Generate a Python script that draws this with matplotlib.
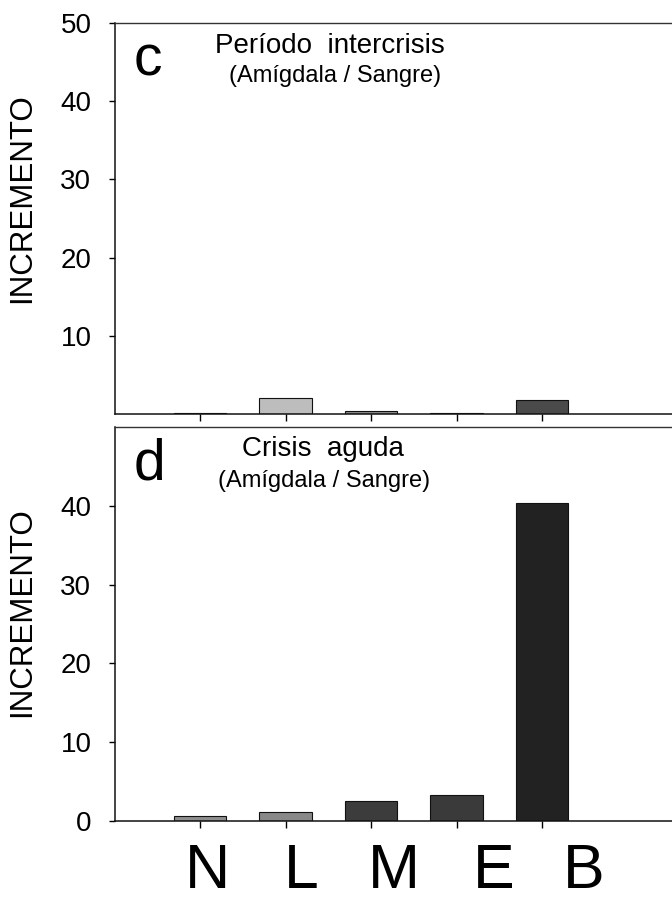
import matplotlib
matplotlib.use("Agg")
import matplotlib.pyplot as plt

plt.rcParams['font.family'] = ['Liberation Sans', 'DejaVu Sans']

categories = ["N", "L", "M", "E", "B"]
intercrisis_values = [0.15, 2.1, 0.4, 0.15, 1.8]
aguda_values = [0.6, 1.1, 2.5, 3.3, 40.3]
intercrisis_colors = ["#8a8a8a", "#bdbdbd", "#8c8c8c", "#808080", "#4a4a4a"]
aguda_colors = ["#8e8e8e", "#888888", "#3c3c3c", "#3a3a3a", "#222222"]
top_yticks = [10, 20, 30, 40, 50]
bottom_yticks = [0, 10, 20, 30, 40]

W, H = 672, 902
fig = plt.figure(figsize=(W / 100, H / 100), dpi=100)

def fx(px):
    return px / W

def fy(py):
    return 1 - py / H

left, right = 115, 672
ax1 = fig.add_axes([fx(left), fy(414), fx(right) - fx(left), fy(23) - fy(414)])
ax2 = fig.add_axes([fx(left), fy(821), fx(right) - fx(left), fy(427) - fy(821)])

x = list(range(len(categories)))
for ax, vals, cols, yt in [(ax1, intercrisis_values, intercrisis_colors, top_yticks),
                           (ax2, aguda_values, aguda_colors, bottom_yticks)]:
    ax.bar(x, vals, width=0.61, color=cols, edgecolor="#111111", linewidth=0.8)
    ax.set_xlim(-0.994, 5.52)
    ax.set_ylim(0, 50)
    ax.set_yticks(yt)
    ax.set_xticks(x)
    ax.set_xticklabels([])
    ax.spines['right'].set_visible(False)
    for s in ['left', 'bottom']:
        ax.spines[s].set_linewidth(1.1)
        ax.spines[s].set_color("#111111")
    ax.spines['top'].set_linewidth(1.0)
    ax.spines['top'].set_color("#333333")
    ax.tick_params(axis='y', direction='out', length=4, width=1, pad=13, labelsize=20)
    ax.tick_params(axis='x', direction='out', length=5, width=1)
    ax.set_ylabel("INCREMENTO", fontsize=22.5)

ax1.yaxis.set_label_coords((37 - left) / (right - left), (414 - 198) / (414 - 23))
ax2.yaxis.set_label_coords((37 - left) / (right - left), (821 - 612) / (821 - 427))

# panel letters and titles
fig.text(fx(148), fy(61), "c", fontsize=41, ha="center", va="center")
fig.text(fx(330), fy(46), "Período  intercrisis", fontsize=20, ha="center", va="center")
fig.text(fx(335), fy(76), "(Amígdala / Sangre)", fontsize=17, ha="center", va="center")
fig.text(fx(149), fy(465), "d", fontsize=41, ha="center", va="center")
fig.text(fx(323), fy(449), "Crisis  aguda", fontsize=20, ha="center", va="center")
fig.text(fx(324), fy(481), "(Amígdala / Sangre)", fontsize=17, ha="center", va="center")

# category labels
label_px = [207, 301, 394, 494, 584]
for c, px in zip(categories, label_px):
    fig.text(fx(px), fy(901), c, fontsize=45, ha="center", va="bottom")

fig.savefig("out.png", dpi=100)
